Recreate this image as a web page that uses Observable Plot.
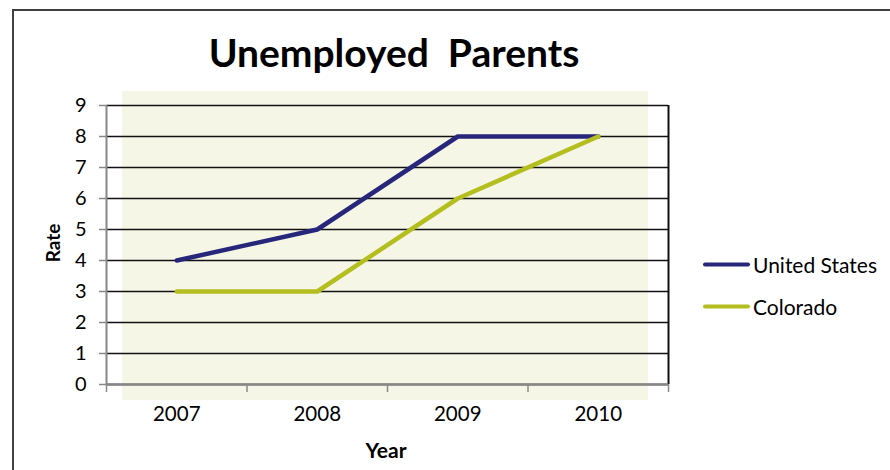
<!DOCTYPE html>
<html><head><meta charset="utf-8">
<script src="https://cdn.jsdelivr.net/npm/d3@7"></script>
<script src="https://cdn.jsdelivr.net/npm/@observablehq/plot@0.6"></script>
<style>
body{margin:0;background:#fff;font-family:Lato,"Open Sans",sans-serif;}
#wrap{position:relative;width:890px;height:470px;overflow:hidden;}
#frame{position:absolute;left:12px;top:9px;width:1000px;height:600px;border-left:2px solid #404040;border-top:2px solid #404040;}
#chart{position:absolute;left:0;top:0;}
.txt{position:absolute;white-space:nowrap;color:#000;}
#title{left:394px;top:52px;transform:translate(-50%,-50%);font-weight:bold;font-size:39px;}
#ylab{left:52px;top:243px;transform:translate(-50%,-50%) rotate(-90deg);font-weight:bold;font-size:19px;}
#xlab{left:386px;top:449px;transform:translate(-50%,-50%);font-weight:bold;font-size:21px;}
.leg{position:absolute;left:703px;display:flex;align-items:center;transform:translateY(-50%);font-size:21px;}
.sw{width:47px;height:4px;border-radius:2px;margin-right:3px;}
</style>
</head><body>
<div id="wrap">
  <div id="frame"></div>
  <div id="chart"></div>
  <div class="txt" id="title">Unemployed&nbsp; Parents</div>
  <div class="txt" id="ylab">Rate</div>
  <div class="txt" id="xlab">Year</div>
  <div id="legend"></div>
</div>
<script>
const years = [2007, 2008, 2009, 2010];
const unitedStates = [4, 5, 8, 8];
const colorado = [3, 3, 6, 8];
const seriesNames = ["United States", "Colorado"];
const seriesColors = ["#26267a", "#b4be1e"];
const yTicks = [0, 1, 2, 3, 4, 5, 6, 7, 8, 9];

const data = [];
years.forEach((yr, i) => {
  data.push({year: yr, value: unitedStates[i], series: seriesNames[0]});
});
years.forEach((yr, i) => {
  data.push({year: yr, value: colorado[i], series: seriesNames[1]});
});
const boundaries = years.map(y => y - 0.5).concat([years[years.length - 1] + 0.5]);
const xMin = boundaries[0], xMax = boundaries[boundaries.length - 1];
const yMin = yTicks[0], yMax = yTicks[yTicks.length - 1];

const background = (index, scales, values, dim) => {
  const r = document.createElementNS("http://www.w3.org/2000/svg", "rect");
  r.setAttribute("x", dim.marginLeft + 16);
  r.setAttribute("y", dim.marginTop - 14);
  r.setAttribute("width", dim.width - dim.marginLeft - dim.marginRight - 36);
  r.setAttribute("height", dim.height - dim.marginTop - dim.marginBottom + 30);
  r.setAttribute("fill", "#f6f6e7");
  return r;
};

const chart = Plot.plot({
  width: 890, height: 470,
  marginLeft: 106, marginRight: 222, marginTop: 105, marginBottom: 86,
  x: {domain: [xMin, xMax]},
  y: {domain: [yMin, yMax]},
  color: {domain: seriesNames, range: seriesColors},
  style: {fontFamily: "Lato, 'Open Sans', sans-serif", fontSize: "19px", color: "#000", background: "transparent"},
  marks: [
    background,
    Plot.gridY(yTicks, {stroke: "#111", strokeOpacity: 1, strokeWidth: 1.6}),
    Plot.ruleX([xMax], {y1: yMin, y2: yMax, stroke: "#111", strokeWidth: 2}),
    Plot.axisY(yTicks, {tickSize: 7, tickPadding: 13, stroke: "#888", strokeWidth: 1.5, label: null, fontSize: 20}),
    Plot.ruleX([xMin], {y1: yMin, y2: yMax, stroke: "#888", strokeWidth: 2}),
    Plot.axisX(boundaries, {tickSize: 8, tickFormat: () => "", stroke: "#888", strokeWidth: 1.5, label: null}),
    Plot.ruleY([yMin], {stroke: "#888", strokeWidth: 2.5}),
    Plot.axisX(years, {tickSize: 0, tickPadding: 22, tickFormat: d => String(d), label: null, fontSize: 20.5}),
    Plot.line(data, {x: "year", y: "value", z: "series", stroke: "series", strokeWidth: 4.5, strokeLinecap: "round", strokeLinejoin: "round"})
  ]
});
document.getElementById("chart").appendChild(chart);

const legend = document.getElementById("legend");
const legTops = [264, 306];
seriesNames.forEach((name, i) => {
  const row = document.createElement("div");
  row.className = "leg";
  row.style.top = legTops[i] + "px";
  const sw = document.createElement("div");
  sw.className = "sw";
  sw.style.background = seriesColors[i];
  const t = document.createElement("span");
  t.textContent = name;
  row.appendChild(sw); row.appendChild(t);
  legend.appendChild(row);
});
</script>
</body></html>
